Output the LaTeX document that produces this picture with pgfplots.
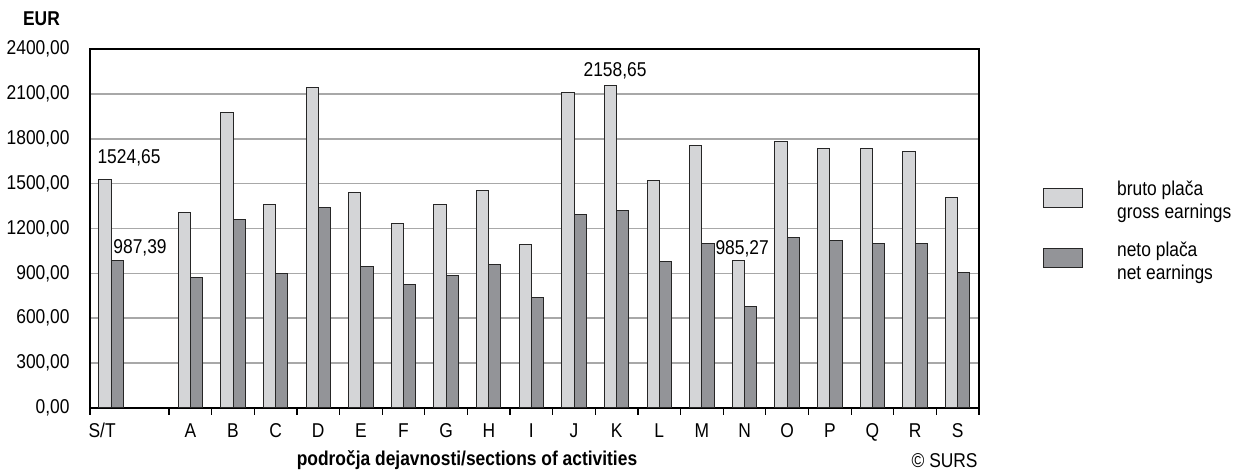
\documentclass[border=0pt]{standalone}
\usepackage{fontspec}
\setmainfont{Liberation Sans}[FakeStretch=0.87]
\usepackage{pgfplots}
\pgfplotsset{compat=1.18}
\usepackage{pgfplotstable}

\definecolor{grossc}{HTML}{D4D5D7}
\definecolor{netc}{HTML}{939498}
\definecolor{gridc}{HTML}{A8A8A8}

% x: S/T sits in a wider first slot, sections A..S at 1..19
\pgfplotstableread{
x      gross    net
-0.862 1524.65  987.39
1      1306     871
2      1977     1263
3      1362     898
4      2144     1341
5      1442     945
6      1235     827
7      1360     885
8      1457     956
9      1094     742
10     2110     1294
11     2158.65  1319
12     1518     978
13     1756     1101
14     985.27   680
15     1782     1141
16     1732     1119
17     1736     1101
18     1718     1101
19     1408     909
}\earnings

\begin{document}
\fontsize{10}{11.5}\selectfont
\begin{tikzpicture}
\path[use as bounding box] (-45pt,-31pt) rectangle (573.5pt,204pt);
\begin{axis}[
    at={(0,0)}, anchor=south west,
    scale only axis,
    width=444.5pt, height=179.5pt,
    xmin=-1.355, xmax=19.5,
    ymin=0, ymax=2400,
    ybar=0pt, bar width=0.286,
    axis line style={line width=1pt},
    ytick={0,300,...,2400},
    scaled y ticks=false,
    ytick pos=left,
    major tick length=0pt,
    yticklabel style={
        /pgf/number format/.cd, fixed, fixed zerofill, precision=2,
        use comma, 1000 sep={}, assume math mode=true,
        /tikz/.cd, anchor=east, inner sep=0pt, xshift=-10pt},
    ymajorgrids,
    grid style={gridc, line width=0.8pt},
    xtick={-1.07,1,2,...,19},
    xticklabels={S/T,A,B,C,D,E,F,G,H,I,J,K,L,M,N,O,P,Q,R,S},
    xtick pos=bottom,
    xticklabel style={anchor=north, inner sep=0pt, yshift=-7.5pt},
    extra x ticks={-1.355,0.5,1.5,2.5,3.5,4.5,5.5,6.5,7.5,8.5,9.5,10.5,11.5,12.5,13.5,14.5,15.5,16.5,17.5,18.5,19.5},
    extra x tick labels={},
    extra x tick style={grid=none, major tick length=3.5pt, tick align=outside,
        tick style={draw=black, line width=0.6pt}},
    legend style={at={(1.0717,0.4916)}, anchor=west, draw=none, fill=none,
        inner sep=0pt, nodes={inner sep=0pt}, cells={align=left, anchor=west},
        row sep=10pt, column sep=17pt},
]
\addplot[fill=grossc, draw=black!85, line width=0.5pt,
    legend image code/.code={\draw[fill=grossc, draw=black!85, line width=0.5pt] (0pt,-2.9pt) rectangle (19.5pt,6.4pt);}]
    table[x=x, y=gross] {\earnings};
\addlegendentry{bruto plača\\gross earnings}
\addplot[fill=netc, draw=black!85, line width=0.5pt,
    legend image code/.code={\draw[fill=netc, draw=black!85, line width=0.5pt] (0pt,-2.9pt) rectangle (19.5pt,6.4pt);}]
    table[x=x, y=net] {\earnings};
\addlegendentry{neto plača\\net earnings}

\node at (axis cs:-0.44,1671) {1524,65};
\node at (axis cs:-0.181,1070) {987,39};
\node at (axis cs:10.962,2255) {2158,65};
\node at (axis cs:13.943,1063) {985,27};
\end{axis}
\node[font=\bfseries] at (-24.25pt,194.5pt) {EUR};
\node[font=\bfseries] at (188.5pt,-26pt) {področja dejavnosti/sections of activities};
\node[anchor=east, inner sep=0pt] at (444pt,-26.5pt) {© SURS};
\end{tikzpicture}
\end{document}
